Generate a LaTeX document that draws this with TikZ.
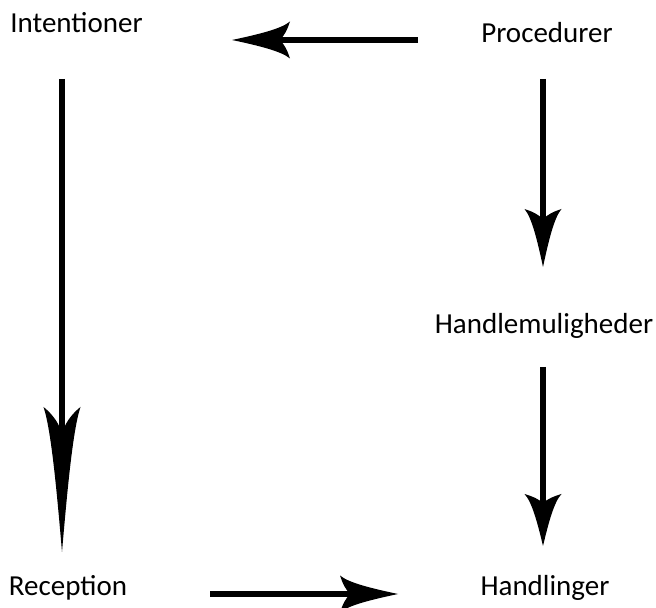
\documentclass[tikz,border=0pt]{standalone}
\usepackage{fontspec}
\setmainfont{Carlito}
\usetikzlibrary{arrows.meta}

% Swallow-tail arrow head with flared, hooked barbs
\pgfdeclarearrow{
  name = Barb,
  parameters = {\the\pgfarrowlength,\the\pgfarrowwidth},
  setup code = {
    \pgfarrowssettipend{\pgfarrowlength}
    \pgfarrowssetlineend{.3\pgfarrowlength}
    \pgfarrowssetbackend{0pt}
    \pgfarrowssavethe\pgfarrowlength
    \pgfarrowssavethe\pgfarrowwidth
  },
  drawing code = {
    \pgfpathmoveto{\pgfpoint{\pgfarrowlength}{0pt}}
    \pgfpathcurveto{\pgfpoint{.55\pgfarrowlength}{.15\pgfarrowwidth}}
                   {\pgfpoint{.15\pgfarrowlength}{.3\pgfarrowwidth}}
                   {\pgfpoint{0pt}{.5\pgfarrowwidth}}
    \pgfpathcurveto{\pgfpoint{.04\pgfarrowlength}{.3\pgfarrowwidth}}
                   {\pgfpoint{.1\pgfarrowlength}{.1\pgfarrowwidth}}
                   {\pgfpoint{.18\pgfarrowlength}{0pt}}
    \pgfpathcurveto{\pgfpoint{.1\pgfarrowlength}{-.1\pgfarrowwidth}}
                   {\pgfpoint{.04\pgfarrowlength}{-.3\pgfarrowwidth}}
                   {\pgfpoint{0pt}{-.5\pgfarrowwidth}}
    \pgfpathcurveto{\pgfpoint{.15\pgfarrowlength}{-.3\pgfarrowwidth}}
                   {\pgfpoint{.55\pgfarrowlength}{-.15\pgfarrowwidth}}
                   {\pgfpoint{\pgfarrowlength}{0pt}}
    \pgfpathclose
    \pgfusepathqfill
  },
  defaults = {length = 58bp, width = 36bp}
}

\begin{document}
\begin{tikzpicture}[x=1bp, y=1bp,
  label/.style={inner sep=0pt, anchor=base, font=\fontsize{29bp}{35bp}\selectfont},
  flow/.style={line width=5.5bp, line cap=butt, -{Barb[length=#1, width=37bp]}},
  flow/.default=58bp]
\useasboundingbox (0,0) rectangle (656,608);

\node[label] (intent)  at (76.5,575) {Intentioner};
\node[label] (proc)    at (547,565)  {Procedurer};
\node[label] (handlem) at (544,274)  {Handlemuligheder};
\node[label] (recep)   at (68,12)    {Reception};
\node[label] (handl)   at (545,12)   {Handlinger};

\draw[flow] ([shift={(-129,3)}]proc.base) -- ([shift={(155.5,-7)}]intent.base);
\draw[flow=145bp] ([shift={(-14.5,-46)}]intent.base) -- ([shift={(-6,44)}]recep.base);
\draw[flow] ([shift={(-4,-36)}]proc.base) -- ([shift={(-1,67)}]handlem.base);
\draw[flow=52bp] ([shift={(-1,-33)}]handlem.base) -- ([shift={(-2,50)}]handl.base);
\draw[flow] ([shift={(142,2)}]recep.base) -- ([shift={(-147,2)}]handl.base);
\end{tikzpicture}
\end{document}
